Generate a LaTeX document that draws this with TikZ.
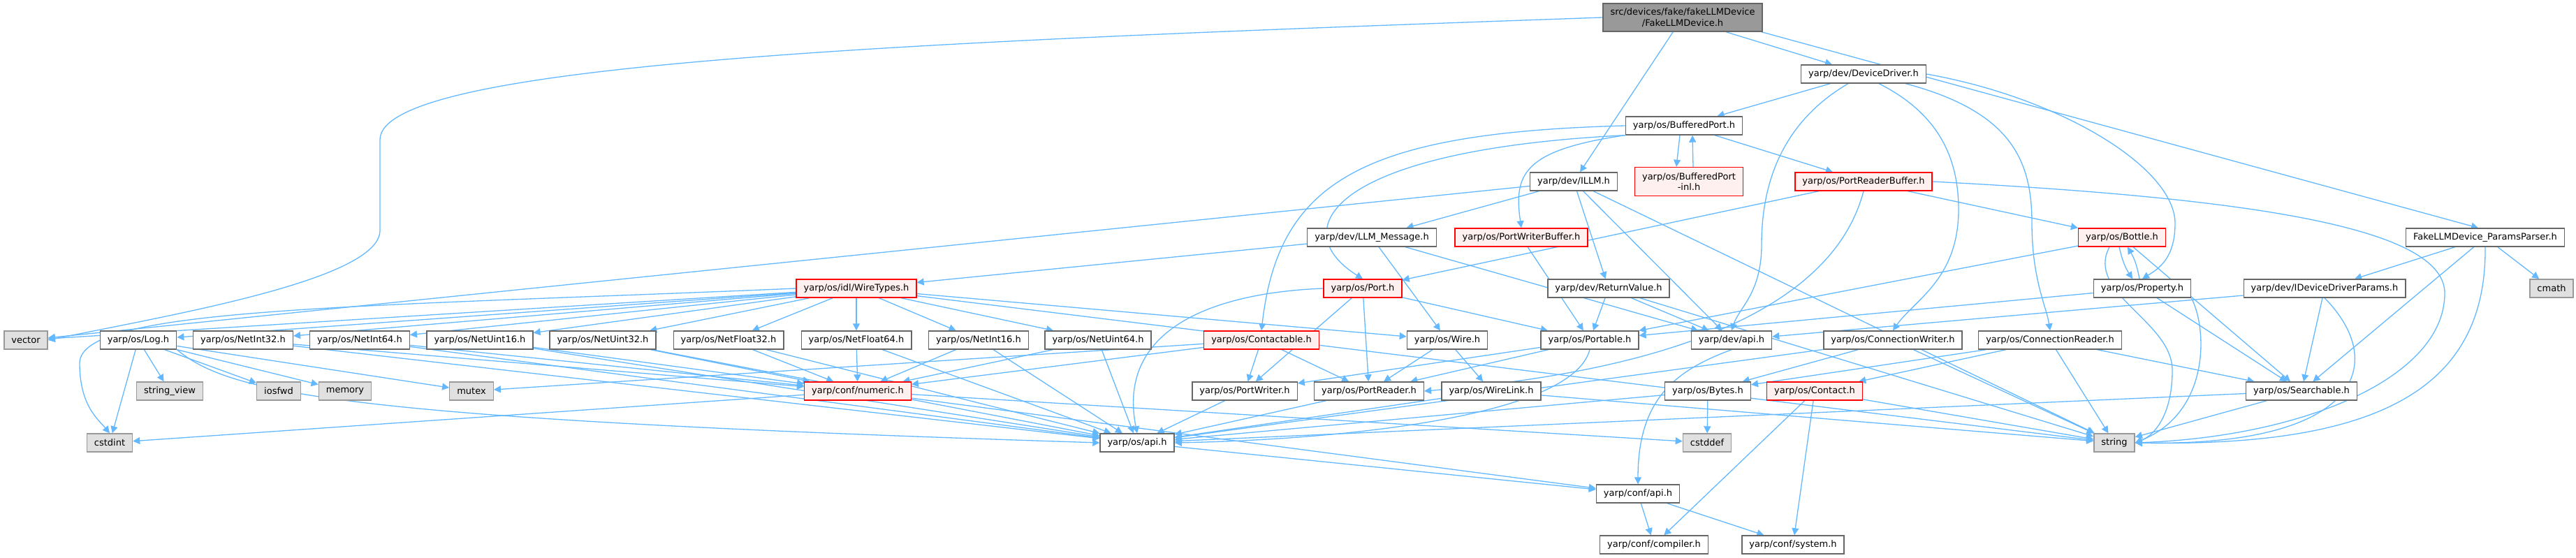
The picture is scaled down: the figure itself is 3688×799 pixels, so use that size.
\documentclass[tikz,border=0pt]{standalone}
\usepackage{fontspec}
\setmainfont{DejaVu Sans}
\usetikzlibrary{arrows.meta}
\definecolor{DepBlue}{RGB}{99,184,255}
\definecolor{HdrBorder}{RGB}{102,102,102}
\definecolor{TruncRed}{RGB}{255,0,0}
\definecolor{TruncFill}{RGB}{255,240,240}
\definecolor{SysBorder}{RGB}{153,153,153}
\definecolor{SysFill}{RGB}{224,224,224}
\definecolor{RootFill}{RGB}{153,153,153}
\pgfdeclarelayer{edges}
\pgfsetlayers{edges,main}
\newcommand\hdrfont{\fontsize{13}{15.5}\selectfont}
\tikzset{
  hdr/.style={draw=HdrBorder,fill=white,line width=1.4pt,inner xsep=10.5pt,inner ysep=0pt,
    minimum height=26pt,font=\hdrfont,align=center},
  trunc/.style={hdr,draw=TruncRed,fill=TruncFill},
  sys/.style={hdr,draw=SysBorder,fill=SysFill},
  root/.style={hdr,fill=RootFill,minimum height=40pt},
  dep/.style={draw=DepBlue,line width=1.3pt,-{Triangle[length=10pt,width=10pt]}},
}

\begin{document}
\begin{tikzpicture}[x=1pt,y=-1pt]
  \useasboundingbox (0,0) rectangle (3688,799);
  % upper part
  \node[root] (main) at (2409,25) {src/devices/fake/fakeLLMDevice\\/FakeLLMDevice.h};
  \node[hdr] (ddriver) at (2668,106) {yarp/dev/DeviceDriver.h};
  \node[hdr] (bport) at (2411,180) {yarp/os/BufferedPort.h};
  \node[hdr] (illm) at (2253,260) {yarp/dev/ILLM.h};
  \node[trunc,minimum height=41pt] (inl) at (2418,260) {yarp/os/BufferedPort\\-inl.h};
  \node[trunc] (prb) at (2668,260) {yarp/os/PortReaderBuffer.h};
  \node[hdr] (llmmsg) at (1964,340) {yarp/dev/LLM\_Message.h};
  \node[trunc] (pwb) at (2178,340) {yarp/os/PortWriterBuffer.h};
  \node[trunc] (bottle) at (3038,340) {yarp/os/Bottle.h};
  \node[hdr] (params) at (3558,340) {FakeLLMDevice\_ParamsParser.h};
  \node[trunc] (wiretypes) at (1226,413) {yarp/os/idl/WireTypes.h};
  \node[trunc] (port) at (1951,413) {yarp/os/Port.h};
  \node[hdr] (retval) at (2303,413) {yarp/dev/ReturnValue.h};
  \node[hdr] (property) at (3067,413) {yarp/os/Property.h};
  \node[hdr] (iddp) at (3328,413) {yarp/dev/IDeviceDriverParams.h};
  \node[sys] (cmath) at (3653,413) {cmath};
  % middle rows
  \node[sys] (vector) at (37,487) {vector};
  \node[hdr] (log) at (198,487) {yarp/os/Log.h};
  \node[hdr] (netint32) at (348,487) {yarp/os/NetInt32.h};
  \node[hdr] (netint64) at (515,487) {yarp/os/NetInt64.h};
  \node[hdr] (netuint16) at (687,487) {yarp/os/NetUint16.h};
  \node[hdr] (netuint32) at (863,487) {yarp/os/NetUint32.h};
  \node[hdr] (netfloat32) at (1043,487) {yarp/os/NetFloat32.h};
  \node[hdr] (netfloat64) at (1226,487) {yarp/os/NetFloat64.h};
  \node[hdr] (netint16) at (1401,487) {yarp/os/NetInt16.h};
  \node[hdr] (netuint64) at (1572,487) {yarp/os/NetUint64.h};
  \node[trunc] (contactable) at (1806,487) {yarp/os/Contactable.h};
  \node[hdr] (wire) at (2072,487) {yarp/os/Wire.h};
  \node[hdr] (portable) at (2276,487) {yarp/os/Portable.h};
  \node[hdr] (devapi) at (2479,487) {yarp/dev/api.h};
  \node[hdr] (cwriter) at (2710,487) {yarp/os/ConnectionWriter.h};
  \node[hdr] (creader) at (2935,487) {yarp/os/ConnectionReader.h};
  \node[sys] (stringview) at (243,560) {string\_view};
  \node[sys] (iosfwd) at (399,560) {iosfwd};
  \node[sys] (memory) at (494,560) {memory};
  \node[sys] (mutex) at (675,560) {mutex};
  \node[trunc] (numeric) at (1228,560) {yarp/conf/numeric.h};
  \node[hdr] (pwriter) at (1782,560) {yarp/os/PortWriter.h};
  \node[hdr] (preader) at (1960,560) {yarp/os/PortReader.h};
  \node[hdr] (wirelink) at (2135,560) {yarp/os/WireLink.h};
  \node[hdr] (bytes) at (2445,560) {yarp/os/Bytes.h};
  \node[trunc] (contact) at (2598,560) {yarp/os/Contact.h};
  \node[hdr] (searchable) at (3295,560) {yarp/os/Searchable.h};
  % bottom
  \node[sys] (cstdint) at (157,634) {cstdint};
  \node[hdr] (osapi) at (1628,634) {yarp/os/api.h};
  \node[sys] (cstddef) at (2444,634) {cstddef};
  \node[sys] (string) at (3027,634) {string};
  \node[hdr] (confapi) at (2345,707) {yarp/conf/api.h};
  \node[hdr] (compiler) at (2368,780) {yarp/conf/compiler.h};
  \node[hdr] (system) at (2567,780) {yarp/conf/system.h};

  \begin{pgfonlayer}{edges}
    \foreach \s/\t in {main/illm,ddriver/bport,bport/prb,
        illm/vector,illm/llmmsg,illm/retval,illm/devapi,illm/string,
        llmmsg/wiretypes,llmmsg/wire,llmmsg/devapi,pwb/portable,prb/port,prb/bottle,
        bottle/portable,bottle/searchable,property/searchable,property/portable,
        params/iddp,params/searchable,params/cmath,iddp/devapi,iddp/searchable,
        retval/portable,retval/devapi,retval/string,
        wiretypes/vector,wiretypes/log,wiretypes/netint32,wiretypes/netint64,
        wiretypes/netuint16,wiretypes/netuint32,wiretypes/netfloat32,
        wiretypes/netfloat64,wiretypes/netint16,wiretypes/netuint64,
        wiretypes/wire,wiretypes/string,
        port/preader,port/portable,port/pwriter,
        log/cstdint,log/stringview,log/iosfwd,log/memory,log/mutex,
        contactable/pwriter,contactable/preader,contactable/mutex,contactable/numeric,
        wire/preader,wire/wirelink,wirelink/osapi,wirelink/string,
        portable/preader,portable/pwriter,preader/osapi,pwriter/osapi,
        numeric/cstdint,numeric/cstddef,numeric/confapi,osapi/confapi,
        cwriter/bytes,cwriter/osapi,cwriter/string,
        creader/contact,creader/bytes,creader/string,creader/searchable,
        bytes/cstddef,bytes/osapi,contact/compiler,contact/system,contact/string,
        searchable/osapi,searchable/string,confapi/compiler,confapi/system}
      \draw[dep] (\s) -- (\t);
    \foreach \n in {netint32,netint64,netuint16,netuint32,netfloat32,netfloat64,netint16,netuint64} {
      \draw[dep] (\n) -- (numeric);
      \draw[dep] (\n) -- (osapi);
    }
    % long routed ones
    \draw[dep] ([xshift=62pt]main.south) -- ([xshift=-45pt]ddriver.north);
    \draw[dep] ([xshift=-2pt]main.south east) -- ([xshift=-10pt]params.north);
    \draw[dep] (main.west) .. controls (1300,60) and (544,90) .. (544,200) -- (544,330)
      .. controls (544,400) and (250,450) .. (vector.east);
    \draw[dep] ([xshift=-22pt]ddriver.south) .. controls (2560,170) and (2522,250) .. (2522,350)
      .. controls (2522,420) and (2490,440) .. (devapi.north);
    \draw[dep] ([xshift=22pt]ddriver.south) .. controls (2770,160) and (2804,220) .. (2804,300)
      .. controls (2804,400) and (2740,430) .. (cwriter.north);
    \draw[dep] ([xshift=60pt]ddriver.south) .. controls (2880,160) and (2909,230) .. (2909,320)
      .. controls (2909,400) and (2930,440) .. (creader.north);
    \draw[dep] (ddriver.east) .. controls (2950,140) and (3114,240) .. (3114,320)
      .. controls (3114,370) and (3090,385) .. (property.north);
    \draw[dep] ([xshift=-6pt]bport.south) -- ([xshift=-18pt]inl.north);
    \draw[dep] ([xshift=6pt]inl.north) -- ([xshift=12pt]bport.south);
    \draw[dep] (bport.south west) .. controls (1900,215) and (1840,330) .. (port.north);
    \draw[dep] (bport.south west) .. controls (2180,215) and (2167,250) .. (pwb.north);
    \draw[dep] (bport.west) .. controls (1950,190) and (1830,260) .. (contactable.north);
    \draw[dep] (prb.south) .. controls (2640,380) and (2520,520) .. (preader.east);
    \draw[dep] (prb.east) .. controls (3250,285) and (3500,330) .. (3500,420)
      .. controls (3500,540) and (3300,625) .. (string.east);
    \draw[dep] ([xshift=-4pt]bottle.south) to[bend right=10] ([xshift=-14pt]property.north);
    \draw[dep] ([xshift=-4pt]property.north) to[bend right=10] ([xshift=8pt]bottle.south);
    \draw[dep] ([xshift=-18pt]bottle.south) .. controls (2985,420) and (3110,460) .. (3110,530)
      .. controls (3110,600) and (3080,625) .. (string.east);
    \draw[dep] (property.south east) .. controls (3160,470) and (3165,590) .. (string.east);
    \draw[dep] (params.south) .. controls (3560,560) and (3400,640) .. (string.east);
    \draw[dep] (iddp.south) .. controls (3420,520) and (3380,640) .. (string.east);
    \draw[dep] (log.south east) .. controls (330,565) and (500,600) .. (osapi.west);
    \draw[dep] (wiretypes.west) .. controls (500,440) and (114,440) .. (114,520)
      .. controls (114,580) and (140,600) .. (cstdint.north);
    \draw[dep] (port.west) .. controls (1720,420) and (1600,480) .. (osapi.north);
    \draw[dep] (portable.south) .. controls (2250,600) and (1900,630) .. (osapi.east);
    \draw[dep] (devapi.south) .. controls (2400,530) and (2345,570) .. (confapi.north);
  \end{pgfonlayer}
\end{tikzpicture}
\end{document}
